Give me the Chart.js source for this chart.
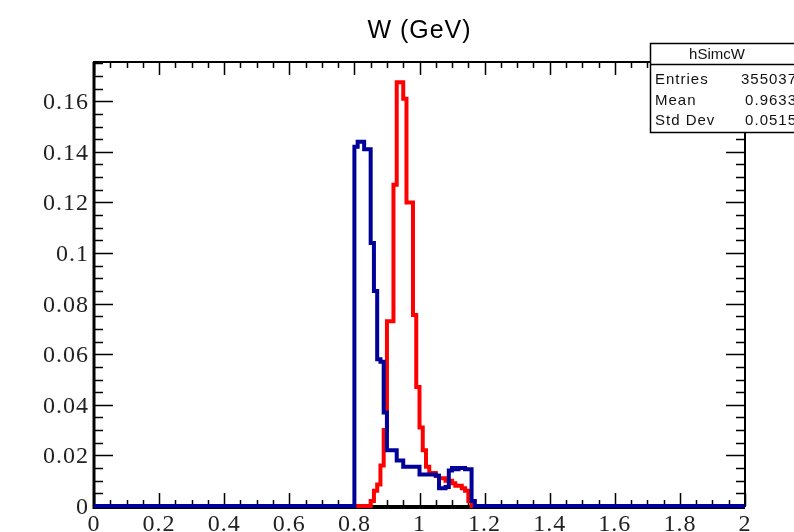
<!DOCTYPE html>
<html>
<head>
<meta charset="utf-8">
<script src="https://cdn.jsdelivr.net/npm/chart.js@4.4.1/dist/chart.umd.min.js"></script>
<style>
  body { margin: 0; background: #fff; }
  canvas { display: block; }
</style>
</head>
<body>
<canvas id="histo" width="794" height="532"></canvas>
<script>
// histogram bins, width 0.01, first filled bin starts at W = 0.80
const binWidth = 0.01;
const firstBin = 0.80;

// blue histogram (dark blue, drawn on top)
const blueCounts = [
  0.142, 0.144, 0.144, 0.141, 0.141, 0.104, 0.085, 0.058, 0.057, 0.037,
  0.022, 0.022, 0.022, 0.018, 0.018, 0.0155, 0.0155, 0.0155, 0.0155, 0.0155,
  0.0125, 0.0125, 0.0125, 0.0125, 0.0125, 0.012, 0.007, 0.007, 0.0075, 0.014,
  0.015, 0.0145, 0.015, 0.015, 0.0145, 0.0145, 0.002
];

// red histogram (hSimcW)
const redCounts = [
  0, 0, 0, 0, 0, 0.002, 0.006, 0.0085, 0.016, 0.030,
  0.073, 0.073, 0.127, 0.1675, 0.1675, 0.161, 0.12, 0.12, 0.0755, 0.047,
  0.031, 0.022, 0.0155, 0.013, 0.013, 0.012, 0.011, 0.011, 0.010, 0.010,
  0.009, 0.008, 0.008, 0.007, 0.006, 0.002
];

// axis tick labels
const xTicks = [0, 0.2, 0.4, 0.6, 0.8, 1, 1.2, 1.4, 1.6, 1.8, 2];
const xTickLabels = ['0', '0.2', '0.4', '0.6', '0.8', '1', '1.2', '1.4', '1.6', '1.8', '2'];
const yTicks = [0, 0.02, 0.04, 0.06, 0.08, 0.1, 0.12, 0.14, 0.16];
const yTickLabels = ['0', '0.02', '0.04', '0.06', '0.08', '0.1', '0.12', '0.14', '0.16'];

// stats box text
const statsTitle = 'hSimcW';
const statsNames = ['Entries', 'Mean', 'Std Dev'];
const statsValues = ['355037', '0.9633', '0.0515'];

// turn bin contents into points for a stepped outline
function toSteps(counts) {
    let pts = [{ x: 0, y: 0 }];
    for (let i = 0; i < counts.length; i++) {
        pts.push({ x: Math.round((firstBin + i * binWidth) * 1000) / 1000, y: counts[i] });
    }
    pts.push({ x: Math.round((firstBin + counts.length * binWidth) * 1000) / 1000, y: 0 });
    pts.push({ x: 2, y: 0 });
    return pts;
}

// ROOT style frame + ticks go under the histograms, labels/title/stats on top
const rootFrame = {
    id: 'rootFrame',
    beforeDatasetsDraw(chart) {
        const ctx = chart.ctx;
        const a = chart.chartArea;
        const xs = chart.scales.x;
        const ys = chart.scales.y;
        ctx.save();

        // frame
        ctx.strokeStyle = '#000';
        ctx.lineWidth = 2;
        ctx.strokeRect(a.left, a.top, a.right - a.left, a.bottom - a.top);
        ctx.lineWidth = 3;
        ctx.beginPath();
        ctx.moveTo(a.left, a.top);
        ctx.lineTo(a.left, a.bottom + 1.5);
        ctx.lineTo(a.right, a.bottom + 1.5);
        ctx.stroke();

        // x ticks, bottom and top
        ctx.lineWidth = 1.5;
        ctx.beginPath();
        for (let k = 0; k <= 40; k++) {
            const v = k * 0.05;
            const px = Math.round(xs.getPixelForValue(v)) + 0.5;
            const len = (k % 4 === 0) ? 13 : 6;
            ctx.moveTo(px, a.bottom);
            ctx.lineTo(px, a.bottom - len);
            ctx.moveTo(px, a.top);
            ctx.lineTo(px, a.top + len);
        }
        // y ticks, left and right
        for (let k = 0; k * 0.005 <= ys.max; k++) {
            const v = k * 0.005;
            const py = Math.round(ys.getPixelForValue(v)) + 0.5;
            const len = (k % 4 === 0) ? 19 : 9;
            ctx.moveTo(a.left, py);
            ctx.lineTo(a.left + len, py);
            ctx.moveTo(a.right, py);
            ctx.lineTo(a.right - len, py);
        }
        ctx.stroke();
        ctx.restore();
    },
    afterDraw(chart) {
        const ctx = chart.ctx;
        const a = chart.chartArea;
        const xs = chart.scales.x;
        const ys = chart.scales.y;
        ctx.save();

        // tick labels
        ctx.fillStyle = '#222';
        ctx.font = '24px "Liberation Serif"';
        ctx.letterSpacing = '1px';
        ctx.textBaseline = 'alphabetic';
        ctx.textAlign = 'right';
        yTicks.forEach((v, i) => {
            ctx.fillText(yTickLabels[i], a.left - 5, ys.getPixelForValue(v) + 8);
        });
        ctx.textAlign = 'center';
        xTicks.forEach((v, i) => {
            ctx.fillText(xTickLabels[i], xs.getPixelForValue(v), a.bottom + 25);
        });

        // title
        ctx.fillStyle = '#000';
        ctx.font = '25px "Liberation Sans"';
        ctx.fillText('W (GeV)', (a.left + a.right) / 2, 38);

        // stats box
        ctx.letterSpacing = '0px';
        ctx.fillStyle = '#fff';
        ctx.fillRect(650, 43, 160, 89);
        ctx.strokeStyle = '#000';
        ctx.lineWidth = 1.5;
        ctx.strokeRect(650.5, 43.5, 160, 89);
        ctx.beginPath();
        ctx.moveTo(650, 64.5);
        ctx.lineTo(800, 64.5);
        ctx.stroke();
        ctx.fillStyle = '#111';
        ctx.font = '15px "Liberation Sans"';
        ctx.textAlign = 'center';
        ctx.fillText(statsTitle, 717, 59);
        ctx.letterSpacing = '1px';
        statsNames.forEach((n, i) => {
            const by = 84 + i * 20.5;
            ctx.textAlign = 'left';
            ctx.fillText(n, 655, by);
            ctx.textAlign = 'right';
            ctx.fillText(statsValues[i], 797, by);
        });
        ctx.restore();
    }
};

const chart = new Chart(document.getElementById('histo'), {
    type: 'line',
    data: {
        datasets: [
            {
                label: 'blue',
                data: toSteps(blueCounts),
                borderColor: '#000099',
                borderWidth: 4,
                stepped: 'before',
                pointRadius: 0,
                fill: false,
                clip: 3,
                borderJoinStyle: 'miter',
                borderCapStyle: 'butt'
            },
            {
                label: 'hSimcW',
                data: toSteps(redCounts),
                borderColor: '#ff0000',
                borderWidth: 4,
                stepped: 'before',
                pointRadius: 0,
                fill: false,
                clip: 3,
                borderJoinStyle: 'miter',
                borderCapStyle: 'butt'
            }
        ]
    },
    options: {
        responsive: false,
        animation: false,
        devicePixelRatio: 1,
        layout: { padding: { top: 62, right: 49, left: 0, bottom: 0 } },
        plugins: {
            legend: { display: false },
            tooltip: { enabled: false },
            title: { display: false }
        },
        scales: {
            x: {
                type: 'linear',
                min: 0,
                max: 2,
                grid: { display: false, drawTicks: false },
                border: { display: false },
                ticks: { display: false },
                afterFit: (s) => { s.height = 26; }
            },
            y: {
                type: 'linear',
                min: 0,
                max: 0.1755,
                grid: { display: false, drawTicks: false },
                border: { display: false },
                ticks: { display: false },
                afterFit: (s) => { s.width = 94; }
            }
        }
    },
    plugins: [rootFrame]
});
</script>
</body>
</html>
